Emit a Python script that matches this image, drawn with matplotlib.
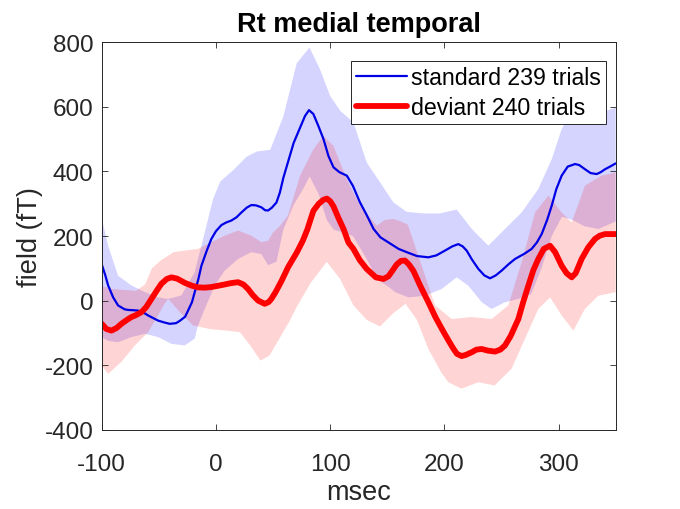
import numpy as np
import matplotlib
matplotlib.use("Agg")
import matplotlib.pyplot as plt

plt.rcParams['font.family'] = ['Liberation Sans', 'DejaVu Sans']
plt.rcParams['axes.unicode_minus'] = False

# ---- data ----
std_x = [-100, -97, -94.4, -90, -85.7, -80, -76.9, -72, -68.2, -63, -59.4, -50.7, -45, -40.5, -35, -31.7,
         -27, -24.4, -21, -18.6, -15.5, -12.7, -8, -4, 0, 4.8, 9, 13.5, 18, 22.3, 27, 31, 35, 39.8, 43,
         45.6, 49, 53, 56, 59, 64, 68, 73.7, 78, 81.5, 85.3, 89.8, 94.2, 98.5, 102.9, 108, 114.6, 120,
         126, 132, 138, 144, 152, 160, 168.5, 176, 186, 193, 200.6, 207, 212.2, 216, 219.5, 224, 229.8,
         235, 240, 245, 250.2, 256, 261.9, 270, 276.4, 281, 285.2, 290, 294, 298, 302.7, 308, 314.4, 318,
         323.1, 328, 333.4, 337, 340.7, 345, 350]
std_y = [112, 80, 47, 10, -15, -27, -29, -30, -31, -38, -46, -62, -68, -72, -70, -63,
         -50, -31, -5, 26, 65, 108, 155, 191, 215, 234, 242, 248, 258, 273, 288, 296, 295, 289, 280,
         279, 288, 304, 335, 380, 440, 488, 536, 572, 590, 578, 540, 500, 448, 413, 398, 387, 355,
         305, 265, 222, 196, 178, 160, 148, 138, 134, 140, 155, 168, 175, 168, 155, 128, 98,
         78, 69, 78, 93, 112, 129, 145, 160, 180, 206, 250, 294, 345, 387, 415, 423, 420,
         407, 395, 392, 398, 407, 415, 425]

dev_x = [-100, -96, -91.5, -87, -82.8, -78, -74, -70, -65.3, -61, -56.5, -52, -47.8, -43, -39, -34, -27.3,
         -21, -15.7, -10, -4, 2, 7.7, 13, 19.4, 24, 28.1, 32, 36.9, 42.7, 46, 48.5, 52, 57.3, 63.1, 70.8,
         76, 80, 85.3, 90, 94, 97.1, 100, 102.9, 107, 111.7, 116, 120.4, 126, 132, 140, 146.7, 151, 155,
         158.3, 162, 165.5, 169, 172.9, 179, 186, 192, 197.7, 203, 207.9, 211, 215.2, 219, 224, 228,
         232.7, 238, 244.3, 249, 253.1, 258, 264.8, 269, 273.5, 278, 282.3, 287, 292.5, 297, 302.7, 307,
         311.5, 315, 320.2, 326, 331.9, 336, 340.7, 350]
dev_y = [-72, -88, -93, -85, -72, -60, -51, -45, -36, -20, 5, 30, 52, 67, 72, 68, 55,
         46, 41, 40, 42, 46, 50, 54, 57, 50, 36, 18, 0, -10, -5, 5, 25, 60, 103, 149,
         185, 220, 278, 300, 312, 316, 308, 292, 258, 222, 180, 160, 125, 98, 72, 67, 75, 95,
         112, 123, 124, 112, 92, 45, -5, -50, -87, -120, -149, -165, -172, -168, -160, -152,
         -150, -155, -158, -152, -139, -110, -57, -5, 46, 95, 129, 160, 170, 150, 108, 85,
         72, 85, 129, 165, 191, 201, 206, 206]

std_up_x = [-100, -94.4, -85.7, -74, -62, -50.7, -41.9, -30.2, -18.6, -9.8, -2.5, 3.8, 15.5, 27, 36, 47.5,
            59, 70.7, 81.9, 91.2, 100, 108.8, 120.4, 132, 143.8, 155.4, 167, 181.7, 196, 210.8, 224,
            238.5, 253.1, 267.7, 282.3, 294, 302.7, 310, 316, 333.5, 350]
std_up_y = [255, 170, 77, 47, 26, 10, 5, 16, 88, 211, 315, 369, 405, 446, 462, 467,
            570, 735, 784, 716, 634, 588, 552, 428, 366, 304, 275, 270, 270, 282, 222,
            170, 222, 273, 346, 438, 531, 580, 593, 577, 598]

std_lo_x = [-100, -94.4, -85.7, -74, -62, -50.7, -39, -27.3, -18.6, -15.7, -9.8, -1, 7.7, 19.4, 31, 39.8,
            45.6, 53, 59, 68, 77, 82, 90, 97, 103, 112, 120, 132, 141, 152, 157, 168.5, 183, 197.7,
            210.8, 221, 232.7, 241.4, 253.1, 264.8, 276, 285, 294, 303, 312, 323, 335, 350]
std_lo_y = [-113, -125, -129, -113, -103, -113, -134, -139, -118, -77, -26, 47, 93, 129, 150, 144,
            110, 120, 220, 296, 350, 385, 330, 250, 220, 210, 200, 129, 67, 40, 26, 10, 15, 36,
            72, 46, -5, -26, -5, 5, 20, 100, 200, 260, 250, 230, 222, 245]

dev_up_x = [-100, -91, -80, -70, -62, -56, -48, -37, -27, -15.7, -4, 7.7, 19.4, 31, 39.8, 45.6, 50, 56.2,
            63, 73.7, 85.4, 94.1, 102.9, 114.6, 126.2, 140.8, 148, 155.4, 162, 168, 179, 191.8, 206.4,
            224, 241.4, 256, 267.7, 279.4, 291.1, 302.7, 311.5, 323.1, 337.7, 350]
dev_up_y = [45, 36, 33, 30, 50, 100, 125, 150, 155, 160, 181, 201, 217, 201, 181, 185, 211, 232,
            263, 387, 469, 510, 479, 376, 294, 232, 250, 253, 245, 235, 120, -15, -57,
            -51, -57, -15, 119, 273, 325, 273, 242, 356, 387, 397]

dev_lo_x = [-100, -94.4, -82.8, -71, -59.4, -50.7, -45, -41.9, -38, -31.7, -20, -5.5, 9, 21, 30, 39, 47,
            55.5, 65, 71, 83, 97, 108.7, 120.4, 132.1, 143.7, 155, 166, 176, 186, 197.7, 203.5, 215,
            229.8, 244, 258.9, 270.6, 282.3, 292.5, 302.7, 313, 323, 334.8, 350]
dev_lo_y = [-201, -227, -190, -139, -98, -46, -10, 5, -10, -36, -77, -88, -93, -98, -139, -186, -170,
            -118, -60, -18, 55, 120, 67, -15, -60, -80, -40, -10, -60, -150, -225, -253, -273,
            -253, -263, -211, -118, -26, 10, -46, -93, -26, 15, 26]

x_ticks = [-100, 0, 100, 200, 300]
y_ticks = [-400, -200, 0, 200, 400, 600, 800]
labels = ['standard 239 trials', 'deviant 240 trials']

# ---- figure ----
fig = plt.figure(figsize=(6.8, 5.1), dpi=100)
ax = fig.add_axes([0.1496, 0.1555, 0.7558, 0.7595])

def band(xu, yu, xl, yl, color):
    px = np.concatenate([np.asarray(xu, float), np.asarray(xl, float)[::-1]])
    py = np.concatenate([np.asarray(yu, float), np.asarray(yl, float)[::-1]])
    ax.fill(px, py, color=color, alpha=0.17, linewidth=0)

band(std_up_x, std_up_y, std_lo_x, std_lo_y, (0, 0, 1))
band(dev_up_x, dev_up_y, dev_lo_x, dev_lo_y, (1, 0, 0))

ax.plot(std_x, std_y, color=(0, 0, 0.9), lw=1.6, label=labels[0],
        solid_capstyle='round', solid_joinstyle='round')
ax.plot(dev_x, dev_y, color=(1, 0, 0), lw=4.2, label=labels[1],
        solid_capstyle='round', solid_joinstyle='round')

ax.set_xlim(-100, 350)
ax.set_ylim(-400, 800)
ax.set_xticks(x_ticks)
ax.set_yticks(y_ticks)
grey = (0.15, 0.15, 0.15)
ax.tick_params(direction='in', length=4, width=0.6, colors=grey, labelsize=17.5,
               top=True, right=True)
ax.tick_params(axis='y', pad=6)
ax.tick_params(axis='x', pad=17)
for s in ax.spines.values():
    s.set_color(grey)
    s.set_linewidth(0.7)

ax.set_xlabel('msec', fontsize=19.5, color=grey, labelpad=3)
ax.set_ylabel('field (fT)', fontsize=19.5, color=grey, labelpad=1)
ax.set_title('Rt medial temporal', fontsize=19.5, fontweight='bold', pad=8)

leg = ax.legend(loc='upper right', bbox_to_anchor=(0.9805, 0.9525), borderaxespad=0,
                fontsize=16.7, handlelength=2.2, handletextpad=0.15, labelspacing=0.32,
                borderpad=0.22, fancybox=False, framealpha=1)
leg.get_frame().set_edgecolor(grey)
leg.get_frame().set_linewidth(0.7)

fig.savefig('out.png', dpi=100)
